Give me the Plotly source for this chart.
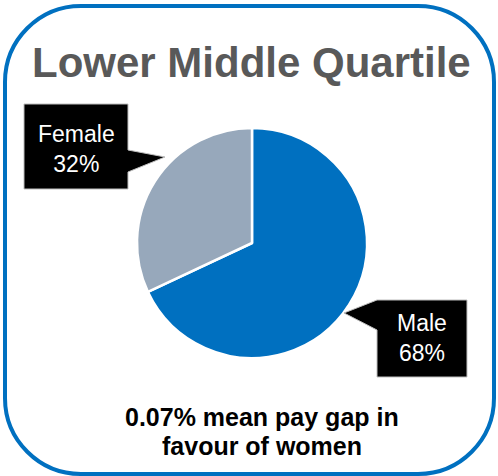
import plotly.graph_objects as go

# ---- data ----
labels = ["Male", "Female"]
values = [68, 32]
colors = ["#0070C0", "#97A8BB"]
title_text = "Lower Middle Quartile"
footer_lines = ["0.07% mean pay gap in", "favour of women"]

W, H = 498, 476
FONT = "Liberation Sans, Arial, sans-serif"


def px(x, y):
    return x / W, 1 - y / H


def path_from(points, close=True):
    parts = []
    for i, (x, y) in enumerate(points):
        X, Y = px(x, y)
        parts.append(("M" if i == 0 else "L") + f"{X:.5f},{Y:.5f}")
    if close:
        parts.append("Z")
    return " ".join(parts)


def rounded_rect(x0, y0, x1, y1, r):
    k = 0.5523 * r
    segs = []
    def P(x, y):
        X, Y = px(x, y)
        return f"{X:.5f},{Y:.5f}"
    segs.append("M" + P(x0 + r, y0))
    segs.append("L" + P(x1 - r, y0))
    segs.append("C" + P(x1 - r + k, y0) + " " + P(x1, y0 + r - k) + " " + P(x1, y0 + r))
    segs.append("L" + P(x1, y1 - r))
    segs.append("C" + P(x1, y1 - r + k) + " " + P(x1 - r + k, y1) + " " + P(x1 - r, y1))
    segs.append("L" + P(x0 + r, y1))
    segs.append("C" + P(x0 + r - k, y1) + " " + P(x0, y1 - r + k) + " " + P(x0, y1 - r))
    segs.append("L" + P(x0, y0 + r))
    segs.append("C" + P(x0, y0 + r - k) + " " + P(x0 + r - k, y0) + " " + P(x0 + r, y0))
    segs.append("Z")
    return " ".join(segs)


fig = go.Figure()

# pie: center (252, 243), radius ~115 px
cx, cy, R = 252, 243, 115
dx0, dy1 = px(cx - R, cy - R)
dx1, dy0 = px(cx + R, cy + R)
fig.add_trace(go.Pie(
    labels=labels, values=values, sort=False, direction="clockwise", rotation=0,
    marker=dict(colors=colors, line=dict(color="white", width=2.5)),
    textinfo="none", hoverinfo="label+percent", showlegend=False,
    domain=dict(x=[dx0, dx1], y=[dy0, dy1]),
))

shapes = []
# outer rounded border
shapes.append(dict(type="path", xref="paper", yref="paper",
                   path=rounded_rect(5, 6, 494, 474, 76),
                   line=dict(color="#0070C0", width=4), fillcolor="rgba(0,0,0,0)"))

# callouts
female_pts = [(24, 104), (128, 104), (128, 150), (165, 157), (128, 172), (128, 189), (24, 189)]
male_pts = [(377, 300), (467, 300), (467, 377), (377, 377), (377, 330), (344, 313)]
for pts in (female_pts, male_pts):
    shapes.append(dict(type="path", xref="paper", yref="paper", path=path_from(pts),
                       line=dict(color="#BFBFBF", width=1), fillcolor="black"))

annotations = []
tx, ty = px(252, 63)
annotations.append(dict(text=f"<b>{title_text}</b>", x=tx, y=ty, xref="paper", yref="paper",
                        xanchor="center", yanchor="middle", showarrow=False,
                        font=dict(family=FONT, size=42, color="#595959")))

pct = {l: round(v / sum(values) * 100) for l, v in zip(labels, values)}
label_pos = {"Female": (76, 149), "Male": (422, 338)}
for l in labels:
    x, y = px(*label_pos[l])
    annotations.append(dict(text=f"{l}<br>{pct[l]}%", x=x, y=y, xref="paper", yref="paper",
                            xanchor="center", yanchor="middle", showarrow=False,
                            font=dict(family=FONT, size=23, color="white")))

for line, yy in zip(footer_lines, (417, 446)):
    x, y = px(262, yy)
    annotations.append(dict(text=f"<b>{line}</b>", x=x, y=y, xref="paper", yref="paper",
                            xanchor="center", yanchor="middle", showarrow=False,
                            font=dict(family=FONT, size=25, color="black")))

fig.update_layout(width=W, height=H, margin=dict(l=0, r=0, t=0, b=0),
                  paper_bgcolor="white", plot_bgcolor="white",
                  shapes=shapes, annotations=annotations)

fig.write_html("out.html", config={"displayModeBar": False},
               post_script="document.body.style.margin='0';document.body.style.overflow='hidden';")
